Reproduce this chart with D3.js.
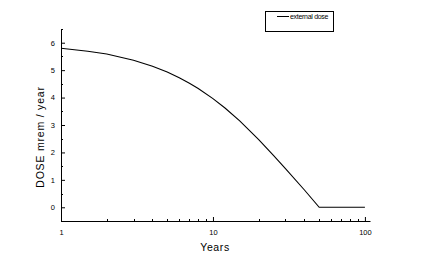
<!DOCTYPE html>
<html>
<head>
<meta charset="utf-8">
<script src="https://cdn.jsdelivr.net/npm/d3@7"></script>
<style>
  body { margin: 0; background: #fff; }
  svg { display: block; }
  text { font-family: Arial, "Liberation Sans", sans-serif; fill: #000; }
</style>
</head>
<body>
<svg id="chart"></svg>
<script>
const years = [1, 1.5, 2, 3, 4, 5, 6, 7, 8, 10, 12, 15, 20, 25, 30, 40, 50, 60, 70, 80, 100];
const dose = [5.80, 5.69, 5.59, 5.36, 5.14, 4.93, 4.72, 4.52, 4.33, 3.96, 3.62, 3.15, 2.47, 1.89, 1.41, 0.63, 0, 0, 0, 0, 0];
const yTicks = [0, 1, 2, 3, 4, 5, 6];
const xTicks = [1, 10, 100];
const seriesName = "external dose";

const width = 430;
const height = 268;
const padLeft = 61;
const padTop = 29;
const axisBottom = 221;
const axisRight = 370;

const svg = d3.select("#chart")
  .attr("width", width)
  .attr("height", height);

const xScale = d3.scaleLog()
  .domain([1, 108])
  .range([padLeft, axisRight]);

const yScale = d3.scaleLinear()
  .domain([-0.5, 6.5])
  .range([axisBottom, padTop]);

// minor ticks for the log axis
const xMinor = [];
for (let d = 1; d < 100; d *= 10) {
  for (let k = 2; k <= 9; k++) xMinor.push(d * k);
}
const yMinor = d3.range(-0.5, 6.51, 1);

// x axis
const xAxis = d3.axisBottom(xScale)
  .tickValues(xTicks)
  .tickFormat(d3.format("d"))
  .tickSize(-4)
  .tickSizeOuter(0)
  .tickPadding(9);

const gx = svg.append("g")
  .attr("transform", "translate(0," + axisBottom + ")")
  .call(xAxis);
gx.select(".domain").attr("stroke", "#000");
gx.selectAll("text").attr("font-size", 7.5).attr("font-family", "Arial, 'Liberation Sans', sans-serif");

gx.selectAll(".minor")
  .data(xMinor)
  .enter()
  .append("line")
  .attr("x1", d => Math.round(xScale(d)) + 0.5)
  .attr("x2", d => Math.round(xScale(d)) + 0.5)
  .attr("y1", 0)
  .attr("y2", -2)
  .attr("stroke", "#000");

// y axis
const yAxis = d3.axisLeft(yScale)
  .tickValues(yTicks)
  .tickFormat(d3.format("d"))
  .tickSize(-4)
  .tickSizeOuter(0)
  .tickPadding(6);

const gy = svg.append("g")
  .attr("transform", "translate(" + padLeft + ",0)")
  .call(yAxis);
gy.select(".domain").attr("stroke", "#000");
gy.selectAll("text").attr("font-size", 7.5).attr("font-family", "Arial, 'Liberation Sans', sans-serif");

gy.selectAll(".minor")
  .data(yMinor)
  .enter()
  .append("line")
  .attr("x1", 0)
  .attr("x2", 2)
  .attr("y1", d => Math.round(yScale(d)) + 0.5)
  .attr("y2", d => Math.round(yScale(d)) + 0.5)
  .attr("stroke", "#000");

// curve
const line = d3.line()
  .x((d, i) => xScale(years[i]))
  .y(d => yScale(d));

svg.append("path")
  .datum(dose)
  .attr("d", line)
  .attr("fill", "none")
  .attr("stroke", "#000")
  .attr("stroke-width", 1.1);

// axis titles
svg.append("text")
  .attr("x", 215)
  .attr("y", 251)
  .attr("font-size", 10.5)
  .style("letter-spacing", "0.6px")
  .style("text-anchor", "middle")
  .text("Years");

svg.append("text")
  .attr("transform", "rotate(-90)")
  .attr("x", -137)
  .attr("y", 44)
  .attr("font-size", 10.5)
  .style("letter-spacing", "0.8px")
  .style("text-anchor", "middle")
  .text("DOSE mrem / year");

// legend
svg.append("rect")
  .attr("x", 265.5)
  .attr("y", 11.5)
  .attr("width", 68)
  .attr("height", 20)
  .attr("fill", "#fff")
  .attr("stroke", "#000");

svg.append("line")
  .attr("x1", 277)
  .attr("x2", 289)
  .attr("y1", 16.5)
  .attr("y2", 16.5)
  .attr("stroke", "#000");

svg.append("text")
  .attr("x", 290)
  .attr("y", 19)
  .attr("font-size", 7)
  .style("letter-spacing", "-0.3px")
  .text(seriesName);
</script>
</body>
</html>
